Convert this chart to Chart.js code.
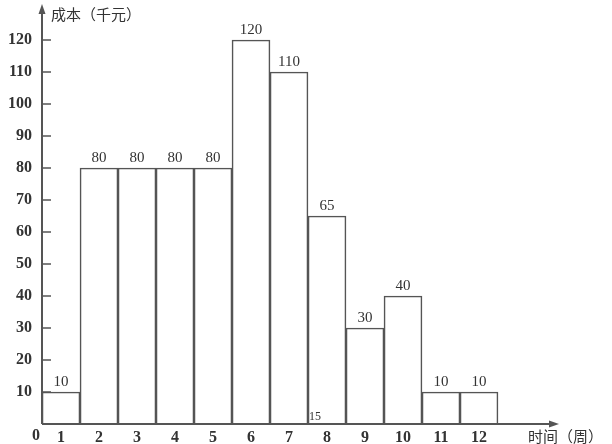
<!DOCTYPE html>
<html>
<head>
<meta charset="utf-8">
<script src="https://cdn.jsdelivr.net/npm/chart.js@4"></script>
<style>
  html, body { margin: 0; padding: 0; background: #fff; }
  #wrap { width: 612px; height: 444px; }
</style>
</head>
<body>
<div id="wrap"><canvas id="chart"></canvas></div>
<script>
'use strict';

const weeks = [1, 2, 3, 4, 5, 6, 7, 8, 9, 10, 11, 12];
const costs = [10, 80, 80, 80, 80, 120, 110, 65, 30, 40, 10, 10];
const yTicks = [10, 20, 30, 40, 50, 60, 70, 80, 90, 100, 110, 120];
const yTitle = '成本（千元）';
const xTitle = '时间（周）';
const strayNote = '15';

const serif = '"Liberation Serif", "DejaVu Serif", serif';
const cjk = '"Noto Sans CJK SC", sans-serif';
const ink = '#555';

const axesPlugin = {
  id: 'axesPlugin',
  afterDatasetsDraw(chart) {
    const ctx = chart.ctx;
    const x = chart.scales.x;
    const y = chart.scales.y;
    const area = chart.chartArea;
    const x0 = x.getPixelForValue(0.5);
    const y0 = y.getPixelForValue(0);

    ctx.save();
    ctx.strokeStyle = ink;
    ctx.fillStyle = ink;
    ctx.lineWidth = 2;

    // axis lines with arrows
    ctx.beginPath();
    ctx.moveTo(x0, y0);
    ctx.lineTo(x0, area.top + 2);
    ctx.moveTo(x0, y0);
    ctx.lineTo(area.right - 2, y0);
    ctx.stroke();

    ctx.beginPath();
    ctx.moveTo(x0, area.top - 4);
    ctx.lineTo(x0 - 3.5, area.top + 6);
    ctx.lineTo(x0 + 3.5, area.top + 6);
    ctx.closePath();
    ctx.fill();

    ctx.beginPath();
    ctx.moveTo(area.right + 4, y0);
    ctx.lineTo(area.right - 6, y0 - 3.5);
    ctx.lineTo(area.right - 6, y0 + 3.5);
    ctx.closePath();
    ctx.fill();

    // y tick marks inside the axis
    ctx.lineWidth = 1.5;
    ctx.beginPath();
    yTicks.forEach(v => {
      const py = y.getPixelForValue(v);
      ctx.moveTo(x0, py);
      ctx.lineTo(x0 + 9, py);
    });
    ctx.stroke();

    // value labels
    ctx.fillStyle = '#333';
    ctx.font = '15px ' + serif;
    ctx.textAlign = 'center';
    ctx.textBaseline = 'bottom';
    const meta = chart.getDatasetMeta(0);
    meta.data.forEach((bar, i) => {
      ctx.fillText(String(costs[i]), bar.x, bar.y - 2);
    });

    // origin and titles
    ctx.font = 'bold 16px ' + serif;
    ctx.textBaseline = 'middle';
    ctx.fillText('0', x0 - 6, y0 + 12);

    ctx.font = '15px ' + cjk;
    ctx.textAlign = 'left';
    ctx.fillText(yTitle, x0 + 9, area.top + 6);
    ctx.fillText(xTitle, area.right - 27, y0 + 12);

    ctx.font = '12px ' + serif;
    ctx.textAlign = 'left';
    ctx.textBaseline = 'bottom';
    ctx.fillText(strayNote, x.getPixelForValue(7.5) + 1, y0 - 1);

    ctx.restore();
  }
};

new Chart(document.getElementById('chart'), {
  type: 'bar',
  data: {
    datasets: [{
      data: weeks.map((w, i) => ({ x: w, y: costs[i] })),
      backgroundColor: '#fff',
      borderColor: ink,
      borderWidth: 1.6,
      barPercentage: 1,
      categoryPercentage: 1
    }]
  },
  options: {
    responsive: true,
    maintainAspectRatio: false,
    animation: false,
    devicePixelRatio: 1,
    layout: { padding: { left: 0, right: 57, top: 8, bottom: 0 } },
    plugins: { legend: { display: false }, tooltip: { enabled: false } },
    scales: {
      x: {
        type: 'linear',
        offset: false,
        min: 0.5,
        max: 14,
        afterFit(scale) {
          scale.height = 20;
          scale.paddingLeft = 0;
          scale.paddingRight = 0;
        },
        afterBuildTicks(scale) { scale.ticks = weeks.map(v => ({ value: v })); },
        grid: { display: false, drawTicks: false },
        border: { display: false },
        ticks: {
          autoSkip: false,
          maxRotation: 0,
          padding: 4,
          color: '#333',
          font: { family: serif, size: 16, weight: 'bold' },
          callback: v => String(v)
        }
      },
      y: {
        min: 0,
        max: 130,
        afterFit(scale) {
          scale.width = 42;
          scale.paddingTop = 0;
          scale.paddingBottom = 0;
        },
        grid: { display: false, drawTicks: false },
        border: { display: false },
        ticks: {
          stepSize: 10,
          padding: 10,
          color: '#333',
          font: { family: serif, size: 16, weight: 'bold' },
          callback: v => yTicks.includes(v) ? String(v) : ''
        }
      }
    }
  },
  plugins: [axesPlugin]
});
</script>
</body>
</html>
